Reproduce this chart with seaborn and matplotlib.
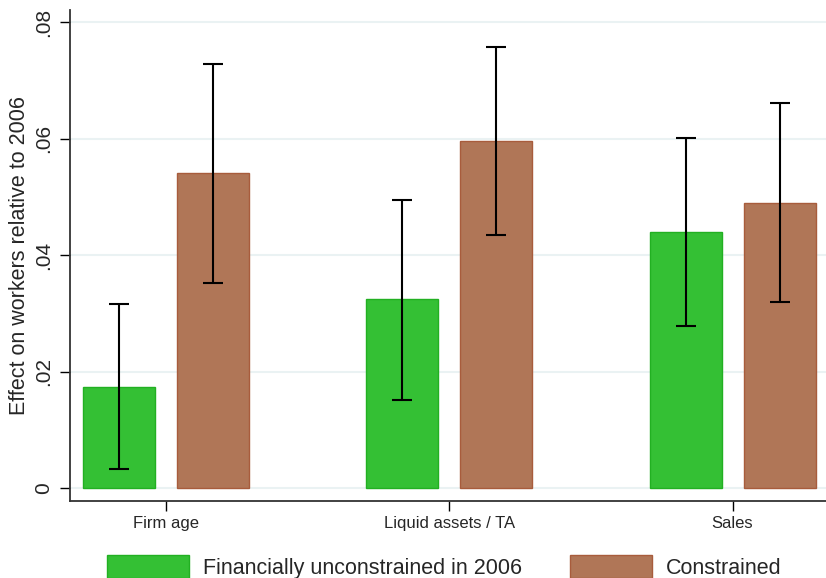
import matplotlib
matplotlib.use("Agg")
import matplotlib.pyplot as plt
import seaborn as sns
import pandas as pd
from matplotlib.patches import Patch
from matplotlib.container import BarContainer

categories = ["Firm age", "Liquid assets / TA", "Sales"]
groups = ["Financially unconstrained in 2006", "Constrained"]
unconstrained = [0.0173, 0.0324, 0.0439]
unconstrained_lo = [0.0033, 0.0151, 0.0278]
unconstrained_hi = [0.0316, 0.0494, 0.0601]
constrained = [0.0540, 0.0596, 0.0489]
constrained_lo = [0.0352, 0.0434, 0.0319]
constrained_hi = [0.0728, 0.0757, 0.0661]
ytick_values = [0, 0.02, 0.04, 0.06, 0.08]
ytick_labels = ["0", ".02", ".04", ".06", ".08"]

fill_colors = ["#34c034", "#b07657"]
edge_colors = ["#22b022", "#a85c3c"]

df = pd.DataFrame({
    "category": categories * 2,
    "group": [groups[0]] * 3 + [groups[1]] * 3,
    "value": unconstrained + constrained,
})

sns.set_theme(style="white")
plt.rcParams["font.family"] = ["Liberation Sans", "DejaVu Sans"]

fig = plt.figure(figsize=(8.26, 5.78), dpi=100)
ax = fig.add_axes([70 / 826, 1 - 501 / 578, 1 - 70 / 826, (501 - 10) / 578])

sns.barplot(data=df, x="category", y="value", hue="group", order=categories,
            hue_order=groups, palette=fill_colors, width=0.664, gap=0.235,
            errorbar=None, ax=ax, saturation=1, linewidth=1.0, zorder=2)

los = [unconstrained_lo, constrained_lo]
his = [unconstrained_hi, constrained_hi]
bar_conts = [c for c in ax.containers if isinstance(c, BarContainer)]
for k, cont in enumerate(bar_conts):
    for i, bar in enumerate(cont.patches):
        if bar is None:
            continue
        bar.set_edgecolor(edge_colors[k])
        bar.set_facecolor(fill_colors[k])
        xc = bar.get_x() + bar.get_width() / 2
        mid = (los[k][i] + his[k][i]) / 2
        ax.errorbar([xc], [mid], yerr=[[mid - los[k][i]], [his[k][i] - mid]],
                    fmt="none", ecolor="black", elinewidth=1.5, capsize=7.5,
                    capthick=1.5, zorder=3)

if ax.legend_ is not None:
    ax.legend_.remove()

ax.set_xlim(-0.34, 2.33)
ax.set_ylim(-0.00223, 0.08206)
ax.set_yticks(ytick_values)
ax.set_yticklabels(ytick_labels, rotation=90, va="center", fontsize=15)
ax.set_xlabel("")
ax.set_ylabel("Effect on workers relative to 2006", fontsize=15.5, labelpad=3)
ax.tick_params(axis="x", labelsize=12, length=7, width=1.0, color="black",
               pad=4, bottom=True)
ax.tick_params(axis="y", length=7, width=1.0, color="black", pad=5, left=True)
ax.yaxis.grid(True, color="#eaf2f3", linewidth=1.5, zorder=0)
ax.xaxis.grid(False)
ax.set_axisbelow(True)
for s in ["top", "right"]:
    ax.spines[s].set_visible(False)
for s in ["left", "bottom"]:
    ax.spines[s].set_color("#333333")
    ax.spines[s].set_linewidth(1.3)

handles = [Patch(facecolor=fill_colors[k], edgecolor=edge_colors[k], linewidth=1.0)
           for k in range(2)]
fig.legend(handles, groups, loc="upper center", bbox_to_anchor=(0.538, 1 - 555 / 578),
           ncol=2, frameon=False, fontsize=15.5, handlelength=3.8, handleheight=1.3,
           handletextpad=0.65, columnspacing=2.25, borderpad=0, borderaxespad=0)

fig.savefig("out.png", dpi=100)
